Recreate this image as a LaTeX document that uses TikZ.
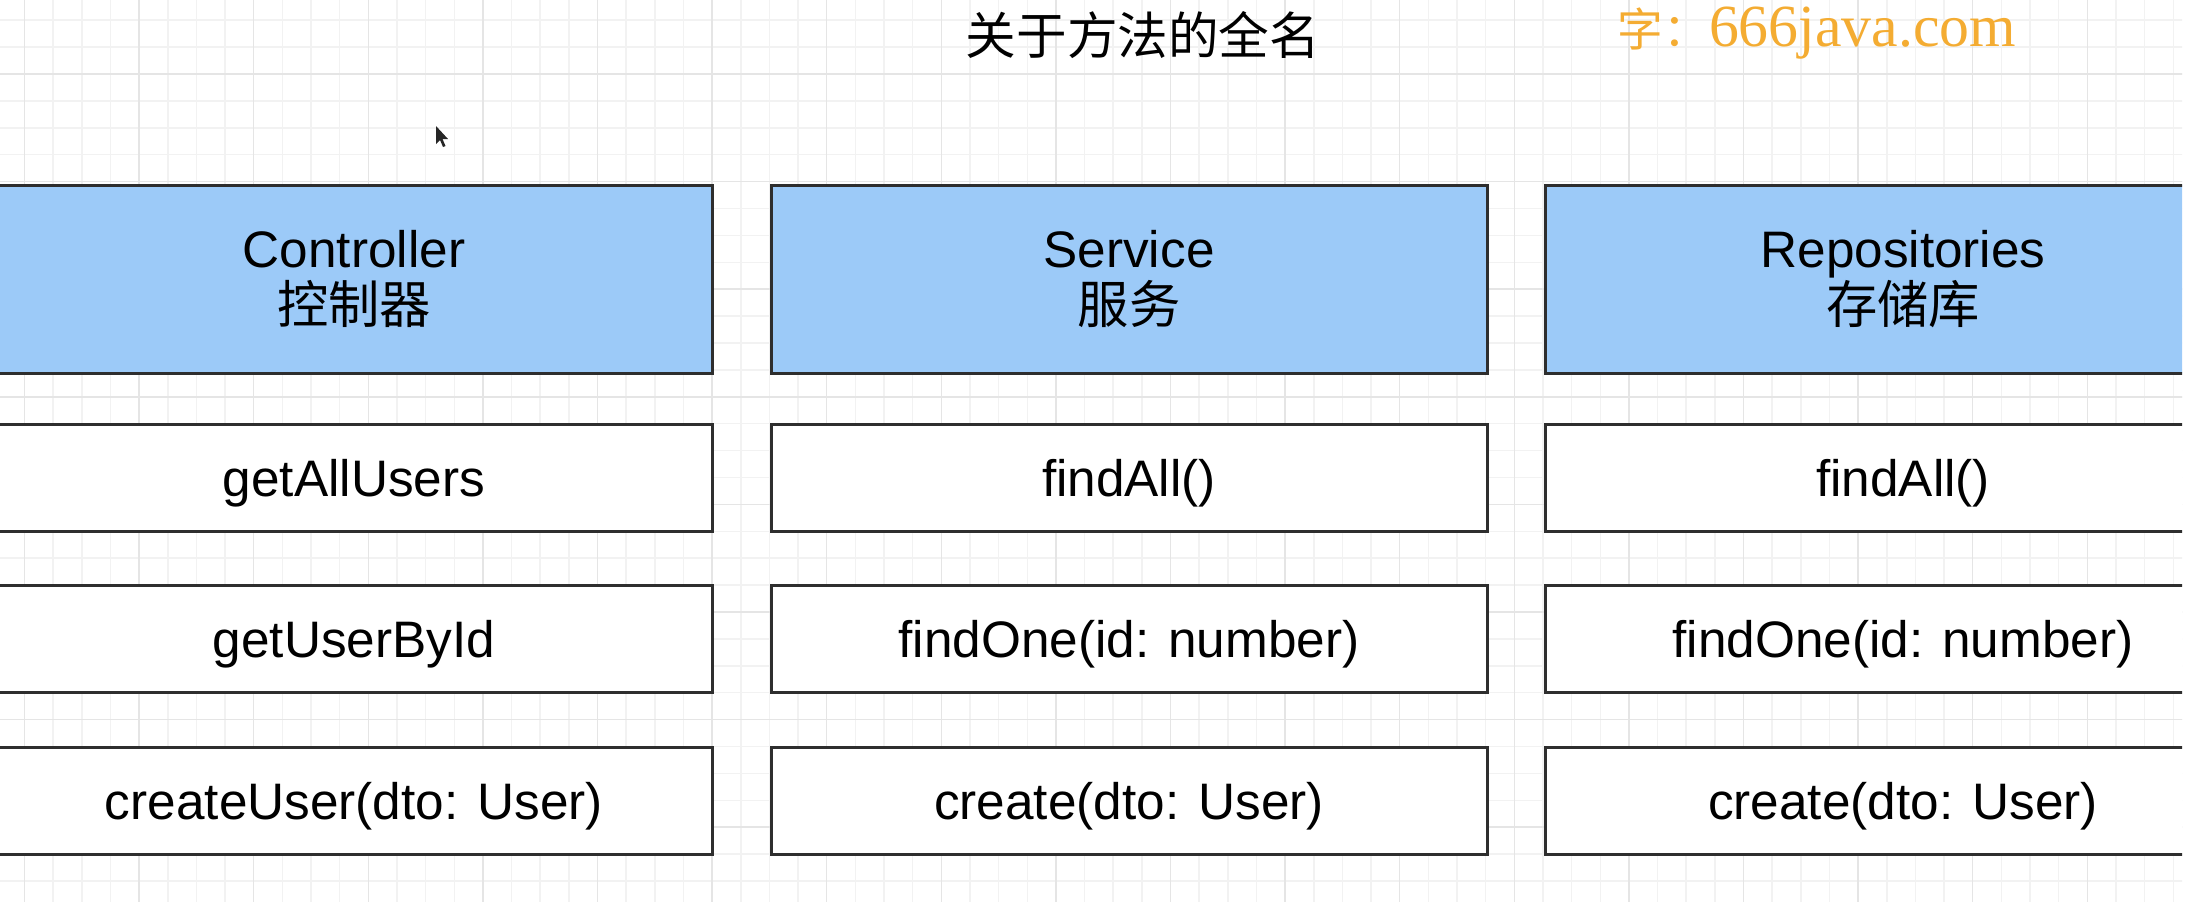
\documentclass[tikz,border=0pt]{standalone}
\usepackage{fontspec}
\setmainfont{Liberation Sans}
\newfontfamily\cjk{Noto Sans CJK SC}
\newfontfamily\wmserif{Liberation Serif}
\usepackage{xcolor}
\usepackage{tikz}
\usetikzlibrary{calc}

\definecolor{headblue}{HTML}{9CCAF8}
\definecolor{boxline}{HTML}{2E2E2E}
\definecolor{gridminor}{HTML}{F2F2F2}
\definecolor{gridmajor}{HTML}{E5E5E5}
\definecolor{wmorange}{HTML}{F4AC32}

\begin{document}
\begin{tikzpicture}[x=0.1mm, y=-0.1mm,
  layerbox/.style={draw=boxline, line width=0.3mm, fill=headblue,
    minimum width=71.6mm, minimum height=18.8mm, inner sep=0pt,
    align=center, font=\fontsize{14.6}{16}\selectfont},
  methodbox/.style={draw=boxline, line width=0.3mm, fill=white,
    minimum width=71.6mm, minimum height=10.7mm, inner sep=0pt,
    text height=4.2mm, text depth=0.5mm,
    font=\fontsize{14.6}{16}\selectfont}]

\useasboundingbox (0,0) rectangle (2186,902);
\clip (0,0) rectangle (2182,902);
\fill[white] (0,0) rectangle (2186,902);

%-- canvas grid: minor 28.65 x 26.9, every 4th line darker
\foreach \i in {0,...,77}
  \draw[gridminor, line width=0.15mm] ({-4.15+28.65*\i},0) -- ++(0,902);
\foreach \i in {0,...,34}
  \draw[gridminor, line width=0.15mm] (0,{-6.7+26.9*\i}) -- ++(2186,0);
\foreach \i in {0,...,19}
  \draw[gridmajor, line width=0.15mm] ({24.5+114.6*\i},0) -- ++(0,902);
\foreach \i in {0,...,8}
  \draw[gridmajor, line width=0.15mm] (0,{-33.6+107.6*\i}) -- ++(2186,0);

\node[font=\cjk\fontsize{14.4}{16}\selectfont] (title) at (1143,35) {关于方法的全名};

\node[anchor=base west, text=wmorange, inner sep=0pt,
  font=\fontsize{17}{20}\selectfont] (mark) at (1617,46)
  {{\cjk\fontsize{13}{16}\selectfont 字：}{\wmserif 666java.com}};

%-- layer headers
\node[layerbox] (ctrl) at (354,279)  {Controller\\{\cjk 控制器}};
\node[layerbox] (svc)  at (1129,279) {Service\\{\cjk 服务}};
\node[layerbox] (repo) at (1903,279) {Repositories\\{\cjk 存储库}};

%-- methods per layer
\node[methodbox] (ctrlAll) at (354,478) {getAllUsers};
\node[methodbox] (ctrlOne) at (354,639) {getUserById};
\node[methodbox] (ctrlNew) at (354,801) {createUser(dto: User)};

\node[methodbox] (svcAll) at (1129,478) {findAll()};
\node[methodbox] (svcOne) at (1129,639) {findOne(id: number)};
\node[methodbox] (svcNew) at (1129,801) {create(dto: User)};

\node[methodbox] (repoAll) at (1903,478) {findAll()};
\node[methodbox] (repoOne) at (1903,639) {findOne(id: number)};
\node[methodbox] (repoNew) at (1903,801) {create(dto: User)};

%-- mouse pointer
\fill[black!85] (436,126) -- (436,144) -- (440,140) -- (443,147)
  -- (445.5,146) -- (442.5,139) -- (448,139) -- cycle;

\end{tikzpicture}
\end{document}
